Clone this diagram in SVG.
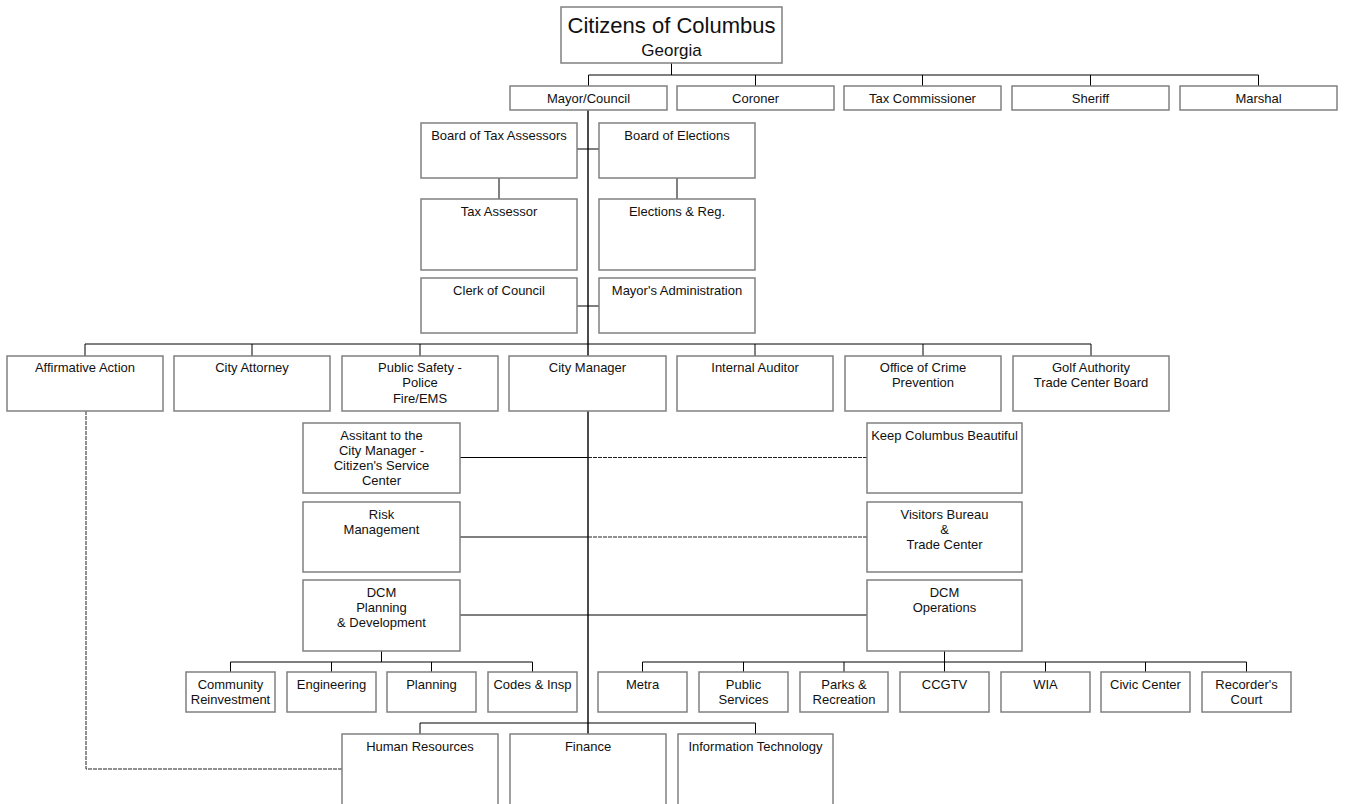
<svg xmlns="http://www.w3.org/2000/svg" width="1346" height="804" viewBox="0 0 1346 804">
<style>
.b{fill:#fff;stroke:#808080;stroke-width:1.5}
.t{font-family:"Liberation Sans",Arial,sans-serif;font-size:13px;fill:#111;text-anchor:middle}
.c{fill:none;stroke:#000;stroke-width:1}
.s{fill:none;stroke:#000;stroke-width:1.4}
.d{fill:none;stroke:#222;stroke-width:1;stroke-dasharray:4,1}
</style>
<rect width="1346" height="804" fill="#fff"/>
<g id="connectors">
<path class="c" d="M671.5 63V75M588.5 75H1258.5M588.5 75V86M755.5 75V86M922.5 75V86M1090.5 75V86M1258.5 75V86"/>
<path class="s" d="M588 110V356M588 411V734"/>
<path class="c" d="M577 149H599M577 306H599M499 178V199M677 178V199"/>
<path class="c" d="M85 344H1091M85 344V356M252 344V356M420 344V356M755 344V356M923 344V356M1091 344V356"/>
<path class="c" d="M460 457.5H588M460 537H588M460 615H867"/>
<path class="d" d="M588 457.5H867M588 537H867"/>
<path class="c" d="M381.5 651V662M230.5 662H532.5M230.5 662V672M331.5 662V672M431.5 662V672M532.5 662V672"/>
<path class="c" d="M944.5 651V662M642.5 662H1246.5M642.5 662V672M743.5 662V672M844 662V672M944.5 662V672M1045.5 662V672M1145.5 662V672M1246.5 662V672"/>
<path class="c" d="M420 723H755.5M420 723V734M755.5 723V734"/>
<path class="d" d="M86 411V769H342"/>
</g>
<g id="citizens"><rect class="b" x="561" y="7" width="221" height="56"/><text class="t" x="671.5" y="33" style="font-size:22px">Citizens of Columbus</text><text class="t" x="671.5" y="56" style="font-size:17px">Georgia</text></g>
<g id="mayor-council"><rect class="b" x="510" y="86" width="157" height="24"/><text class="t" x="588.5" y="102.5">Mayor/Council</text></g>
<g id="coroner"><rect class="b" x="677" y="86" width="157" height="24"/><text class="t" x="755.5" y="102.5">Coroner</text></g>
<g id="tax-commissioner"><rect class="b" x="844" y="86" width="157" height="24"/><text class="t" x="922.5" y="102.5">Tax Commissioner</text></g>
<g id="sheriff"><rect class="b" x="1012" y="86" width="157" height="24"/><text class="t" x="1090.5" y="102.5">Sheriff</text></g>
<g id="marshal"><rect class="b" x="1180" y="86" width="157" height="24"/><text class="t" x="1258.5" y="102.5">Marshal</text></g>
<g id="board-tax-assessors"><rect class="b" x="421" y="123" width="156" height="55"/><text class="t" x="499" y="139.5">Board of Tax Assessors</text></g>
<g id="board-elections"><rect class="b" x="599" y="123" width="156" height="55"/><text class="t" x="677" y="139.5">Board of Elections</text></g>
<g id="tax-assessor"><rect class="b" x="421" y="199" width="156" height="71"/><text class="t" x="499" y="215.5">Tax Assessor</text></g>
<g id="elections-reg"><rect class="b" x="599" y="199" width="156" height="71"/><text class="t" x="677" y="215.5">Elections &amp; Reg.</text></g>
<g id="clerk-council"><rect class="b" x="421" y="278" width="156" height="55"/><text class="t" x="499" y="294.5">Clerk of Council</text></g>
<g id="mayors-admin"><rect class="b" x="599" y="278" width="156" height="55"/><text class="t" x="677" y="294.5">Mayor's Administration</text></g>
<g id="affirmative-action"><rect class="b" x="7" y="356" width="156" height="55"/><text class="t" x="85" y="371.5">Affirmative Action</text></g>
<g id="city-attorney"><rect class="b" x="174" y="356" width="156" height="55"/><text class="t" x="252" y="371.5">City Attorney</text></g>
<g id="public-safety"><rect class="b" x="342" y="356" width="156" height="55"/><text class="t" x="420" y="371.5">Public Safety -</text><text class="t" x="420" y="387">Police</text><text class="t" x="420" y="402.5">Fire/EMS</text></g>
<g id="city-manager"><rect class="b" x="509" y="356" width="157" height="55"/><text class="t" x="587.5" y="371.5">City Manager</text></g>
<g id="internal-auditor"><rect class="b" x="677" y="356" width="156" height="55"/><text class="t" x="755" y="371.5">Internal Auditor</text></g>
<g id="crime-prevention"><rect class="b" x="845" y="356" width="156" height="55"/><text class="t" x="923" y="371.5">Office of Crime</text><text class="t" x="923" y="387">Prevention</text></g>
<g id="golf-authority"><rect class="b" x="1013" y="356" width="156" height="55"/><text class="t" x="1091" y="371.5">Golf Authority</text><text class="t" x="1091" y="387">Trade Center Board</text></g>
<g id="assistant"><rect class="b" x="303" y="423" width="157" height="70"/><text class="t" x="381.5" y="439.5">Assitant to the</text><text class="t" x="381.5" y="454.5">City Manager -</text><text class="t" x="381.5" y="469.5">Citizen's Service</text><text class="t" x="381.5" y="484.5">Center</text></g>
<g id="risk-management"><rect class="b" x="303" y="502" width="157" height="70"/><text class="t" x="381.5" y="518.5">Risk</text><text class="t" x="381.5" y="533.5">Management</text></g>
<g id="dcm-planning"><rect class="b" x="303" y="580" width="157" height="71"/><text class="t" x="381.5" y="596.5">DCM</text><text class="t" x="381.5" y="611.5">Planning</text><text class="t" x="381.5" y="626.5">&amp; Development</text></g>
<g id="keep-columbus"><rect class="b" x="867" y="423" width="155" height="70"/><text class="t" x="944.5" y="439.5">Keep Columbus Beautiful</text></g>
<g id="visitors-bureau"><rect class="b" x="867" y="502" width="155" height="70"/><text class="t" x="944.5" y="518.5">Visitors Bureau</text><text class="t" x="944.5" y="533.5">&amp;</text><text class="t" x="944.5" y="548.5">Trade Center</text></g>
<g id="dcm-operations"><rect class="b" x="867" y="580" width="155" height="71"/><text class="t" x="944.5" y="596.5">DCM</text><text class="t" x="944.5" y="611.5">Operations</text></g>
<g id="community-reinvestment"><rect class="b" x="186" y="672" width="89" height="40"/><text class="t" x="230.5" y="689">Community</text><text class="t" x="230.5" y="704">Reinvestment</text></g>
<g id="engineering"><rect class="b" x="287" y="672" width="89" height="40"/><text class="t" x="331.5" y="689">Engineering</text></g>
<g id="planning"><rect class="b" x="387" y="672" width="89" height="40"/><text class="t" x="431.5" y="689">Planning</text></g>
<g id="codes-insp"><rect class="b" x="488" y="672" width="89" height="40"/><text class="t" x="532.5" y="689">Codes &amp; Insp</text></g>
<g id="metra"><rect class="b" x="598" y="672" width="89" height="40"/><text class="t" x="642.5" y="689">Metra</text></g>
<g id="public-services"><rect class="b" x="699" y="672" width="89" height="40"/><text class="t" x="743.5" y="689">Public</text><text class="t" x="743.5" y="704">Services</text></g>
<g id="parks-recreation"><rect class="b" x="800" y="672" width="88" height="40"/><text class="t" x="844" y="689">Parks &amp;</text><text class="t" x="844" y="704">Recreation</text></g>
<g id="ccgtv"><rect class="b" x="900" y="672" width="89" height="40"/><text class="t" x="944.5" y="689">CCGTV</text></g>
<g id="wia"><rect class="b" x="1001" y="672" width="89" height="40"/><text class="t" x="1045.5" y="689">WIA</text></g>
<g id="civic-center"><rect class="b" x="1101" y="672" width="89" height="40"/><text class="t" x="1145.5" y="689">Civic Center</text></g>
<g id="recorders-court"><rect class="b" x="1202" y="672" width="89" height="40"/><text class="t" x="1246.5" y="689">Recorder's</text><text class="t" x="1246.5" y="704">Court</text></g>
<g id="human-resources"><rect class="b" x="342" y="734" width="156" height="90"/><text class="t" x="420" y="751">Human Resources</text></g>
<g id="finance"><rect class="b" x="510" y="734" width="156" height="90"/><text class="t" x="588" y="751">Finance</text></g>
<g id="information-technology"><rect class="b" x="678" y="734" width="155" height="90"/><text class="t" x="755.5" y="751">Information Technology</text></g>
</svg>
